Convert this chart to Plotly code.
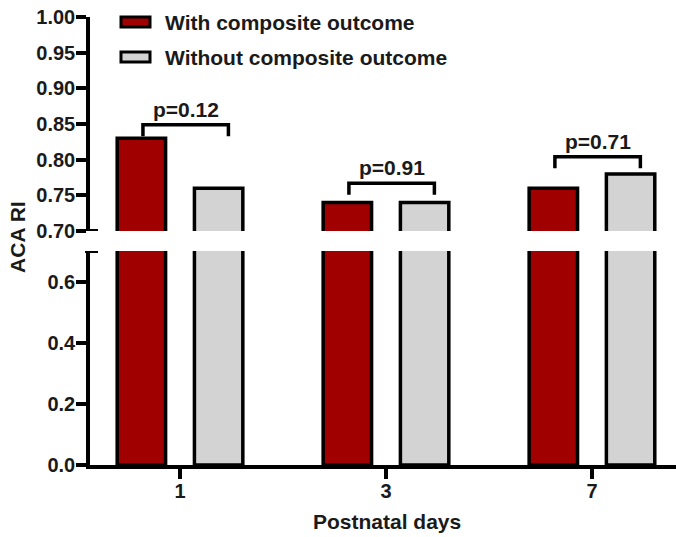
import plotly.graph_objects as go

# ---- data ----
days = ["1", "3", "7"]
series_names = ["With composite outcome", "Without composite outcome"]
with_outcome = [0.83, 0.74, 0.76]
without_outcome = [0.76, 0.74, 0.78]
p_labels = ["p=0.12", "p=0.91", "p=0.71"]
bracket_top = [0.849, 0.767, 0.804]
lower_ticks = [0.0, 0.2, 0.4, 0.6]
upper_ticks = [0.70, 0.75, 0.80, 0.85, 0.90, 0.95, 1.00]

RED = "#a00000"
GRAY = "#d3d3d3"
TXT = "#1a1a1a"
FONT = "Liberation Sans, Arial, sans-serif"

xpos = list(range(len(days)))
W, OFF_L, OFF_R = 0.235, -0.305, 0.07

fig = go.Figure()
for yax in ["y", "y2"]:
    fig.add_trace(go.Bar(x=xpos, y=with_outcome, width=W, offset=OFF_L, yaxis=yax,
                         marker=dict(color=RED, line=dict(color="black", width=3.5)),
                         name=series_names[0], showlegend=False))
    fig.add_trace(go.Bar(x=xpos, y=without_outcome, width=W, offset=OFF_R, yaxis=yax,
                         marker=dict(color=GRAY, line=dict(color="black", width=3.5)),
                         name=series_names[1], showlegend=False))

# significance brackets
LEG = 0.016
for c, top, lab in zip(xpos, bracket_top, p_labels):
    xl, xr = c - 0.18, c + 0.235
    fig.add_trace(go.Scatter(x=[xl, xl, xr, xr], y=[top - LEG, top, top, top - LEG],
                             mode="lines", yaxis="y2", line=dict(color="black", width=3.5),
                             showlegend=False, hoverinfo="skip"))
    fig.add_annotation(x=(xl + xr) / 2, y=top, xref="x", yref="y2", text=lab,
                       showarrow=False, yanchor="bottom", yshift=2,
                       font=dict(family=FONT, size=21, color=TXT, weight="bold"))

tickfont = dict(family=FONT, size=20, color=TXT, weight="bold")
axis_common = dict(showline=True, linecolor="black", linewidth=3.5, ticks="outside",
                   ticklen=10, tickwidth=3.5, tickcolor="black", showgrid=False,
                   zeroline=False, tickfont=tickfont)

fig.update_layout(
    width=676, height=537,
    margin=dict(l=90, r=0, t=17, b=72),
    plot_bgcolor="white", paper_bgcolor="white",
    barmode="overlay",
    showlegend=False,
    xaxis=dict(range=[-0.437, 2.408], tickvals=xpos, ticktext=days,
               ticklabelstandoff=-5, **axis_common),
    yaxis=dict(domain=[0, 0.4777], range=[0, 0.7], tickvals=lower_ticks,
               tickformat=".1f", ticklabelstandoff=-3, **axis_common),
    yaxis2=dict(domain=[0.5223, 1.0], range=[0.7, 1.0], tickvals=upper_ticks,
                tickformat=".2f", anchor="x", ticklabelstandoff=-3, **axis_common),
)

# break caps on the y axis
for yref in ["y", "y2"]:
    fig.add_shape(type="line", xref="paper", yref=yref, x0=-0.0085, x1=0.0137,
                  y0=0.7, y1=0.7, line=dict(color="black", width=4))

# axis titles
fig.add_annotation(x=-0.123, y=0.509, xref="paper", yref="paper", text="ACA RI",
                   textangle=-90, showarrow=False, xanchor="center", yanchor="middle",
                   font=dict(family=FONT, size=21, color=TXT, weight="bold"))
fig.add_annotation(x=0.507, y=-0.127, xref="paper", yref="paper", text="Postnatal days",
                   showarrow=False, xanchor="center", yanchor="middle",
                   font=dict(family=FONT, size=21, color=TXT, weight="bold"))

# manual legend
legend_rows = [(RED, 1.0, 0.9777, 0.9888), (GRAY, 0.9219, 0.8996, 0.9107)]
for name, (col, y1, y0, yt) in zip(series_names, legend_rows):
    fig.add_shape(type="rect", xref="paper", yref="paper", x0=0.0529, x1=0.1024,
                  y0=y0, y1=y1, fillcolor=col, line=dict(color="black", width=3))
    fig.add_annotation(x=0.125, y=yt, xref="paper", yref="paper", text=name,
                       showarrow=False, xanchor="left", yanchor="middle",
                       font=dict(family=FONT, size=21, color=TXT, weight="bold"))

fig.write_html("out.html")
